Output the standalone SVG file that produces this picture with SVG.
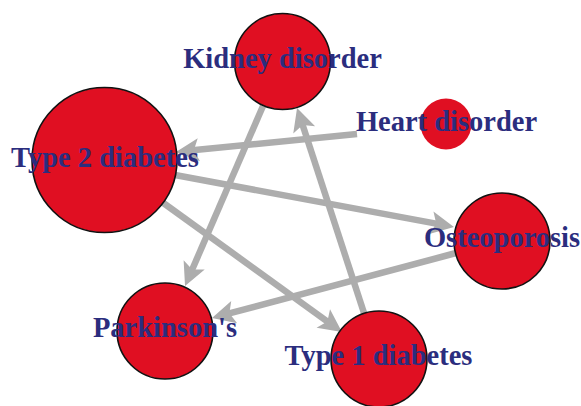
<svg xmlns="http://www.w3.org/2000/svg" width="581" height="406" viewBox="0 0 581 406">
<defs>
<marker id="arr" markerUnits="userSpaceOnUse" viewBox="-24 -13 26 26" markerWidth="26" markerHeight="26" refX="-14" refY="0" orient="auto" overflow="visible">
<path d="M0,0 L-23,-11.5 L-18,0 L-23,11.5 Z" fill="#adadad"/>
</marker>
</defs>
<style>
.edge{stroke:#adadad;stroke-width:6.5;fill:none;marker-end:url(#arr)}
.node{fill:#e00f22;stroke:#111;stroke-width:1.6}
.lbl{font-family:"Liberation Serif","Times New Roman",serif;font-weight:bold;font-size:28.5px;fill:#2b2d7e;text-anchor:middle}
</style>
<rect width="581" height="406" fill="#fff"/>
<g id="edges">
<line class="edge" x1="357" y1="134" x2="189.9" y2="150.6"/>
<line class="edge" x1="175" y1="175" x2="440.2" y2="224.4"/>
<line class="edge" x1="162" y1="202" x2="330.6" y2="323.8"/>
<line class="edge" x1="263" y1="106" x2="190.6" y2="273.2"/>
<line class="edge" x1="364" y1="313" x2="301.4" y2="121.3"/>
<line class="edge" x1="456" y1="253" x2="225.5" y2="314.4"/>
</g>
<g id="kidney"><circle class="node" cx="282.5" cy="61.5" r="48"/></g>
<g id="type2"><circle class="node" cx="104.5" cy="160" r="72.5"/></g>
<g id="heart"><circle class="node" cx="446" cy="124" r="25.5" style="stroke:none"/></g>
<g id="osteo"><circle class="node" cx="502" cy="241" r="48"/></g>
<g id="parkinson"><circle class="node" cx="165" cy="331" r="48"/></g>
<g id="type1"><circle class="node" cx="379" cy="359" r="48"/></g>
<g id="labels">
<text class="lbl" x="282.5" y="68">Kidney disorder</text>
<text class="lbl" x="105" y="167">Type 2 diabetes</text>
<text class="lbl" x="446.5" y="131">Heart disorder</text>
<text class="lbl" x="502" y="247">Osteoporosis</text>
<text class="lbl" x="165" y="337">Parkinson's</text>
<text class="lbl" x="378.5" y="365">Type 1 diabetes</text>
</g>
</svg>
